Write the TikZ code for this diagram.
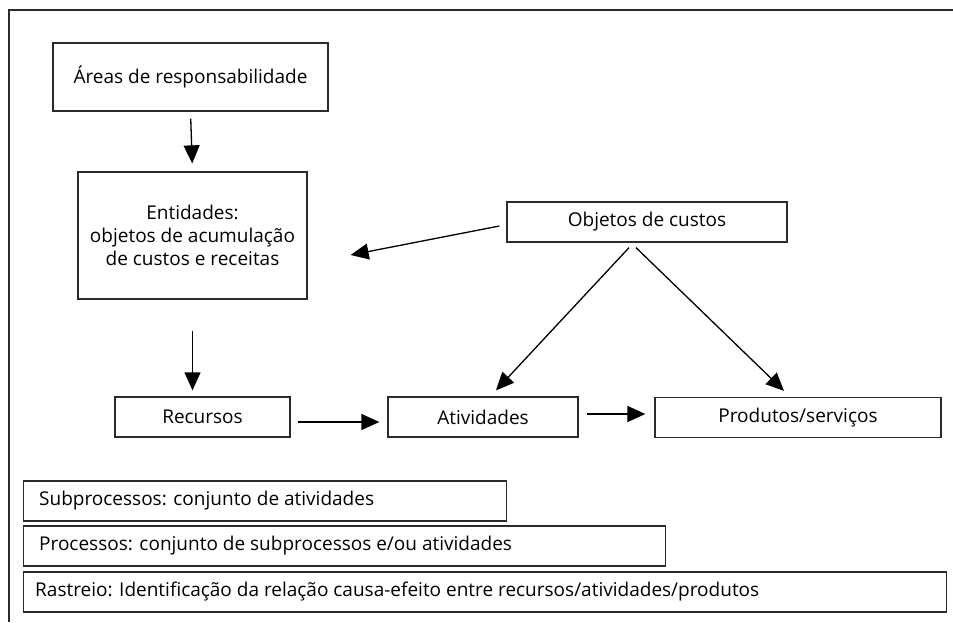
\documentclass[tikz,border=0pt]{standalone}
\usepackage{fontspec}
\setmainfont{Open Sans}
\usetikzlibrary{arrows.meta}
\definecolor{ink}{HTML}{2B2B2B}
\tikzset{
  txt/.style={font=\fontsize{19}{23}\selectfont, text=black},
  box/.style={draw=ink, line width=1.3pt, minimum height=40pt, inner sep=0pt, txt},
  arr/.style={draw=black, line width=1.3pt, -{Triangle[length=18pt,width=16pt]}},
}
\begin{document}
\begin{tikzpicture}[x=1pt,y=-1pt]
\useasboundingbox (0,0) rectangle (953,622);
\fill[white] (0,0) rectangle (953,622);
% partial outer frame
\draw[ink, line width=1.2pt] (9,622) -- (9,10) -- (953,10);

\node[box, minimum width=275pt, minimum height=68pt] (areas) at (190.5,77) {Áreas de responsabilidade};
\node[box, minimum width=229pt, minimum height=127pt, align=center] (ent) at (192.5,235.5) {Entidades:\\objetos de acumulação\\de custos e receitas};
\node[box, minimum width=280pt] (obj) at (647,222) {Objetos de custos};
\node[box, minimum width=175pt] (rec) at (202.5,417) {Recursos};
\node[box, minimum width=190pt] (ati) at (483,417) {Atividades};
\node[box, minimum width=286pt] (prod) at (798,417.5) {Produtos/serviços};

\node[box, minimum width=483pt, anchor=west] (sub) at (23,501) {};
\node[txt, anchor=west, inner sep=0pt] (subt) at (39,501) {Subprocessos: conjunto de atividades};
\node[box, minimum width=642pt, anchor=west] (proc) at (23,546) {};
\node[txt, anchor=west, inner sep=0pt] (proct) at (39,546) {Processos: conjunto de subprocessos e/ou atividades};
\node[box, minimum width=923pt, anchor=west] (ras) at (23,592) {};
\node[txt, anchor=west, inner sep=0pt] (rast) at (35,592) {Rastreio: Identificação da relação causa-efeito entre recursos/atividades/produtos};

% arrows
\draw[arr, shorten <=7pt, shorten >=8pt] (areas.south) -- (ent.north);
\draw[arr, shorten <=31pt, shorten >=6pt] (ent.south) -- (ent.south |- rec.north);
\draw[arr, shorten <=7pt, shorten >=8pt] (rec.east |- 0,422) -- (ati.west |- 0,422);
\draw[arr, shorten <=8pt, shorten >=9pt] (ati.east |- 0,414) -- (prod.west |- 0,414);

\coordinate (oe1) at ([shift={(-7,4)}]obj.west);
\coordinate (oe2) at ([shift={(43,19.5)}]ent.east);
\draw[arr] (oe1) -- (oe2);
\coordinate (oa1) at ([shift={(-18,5)}]obj.south);
\coordinate (oa2) at ([shift={(13,-6)}]ati.north);
\draw[arr] (oa1) -- (oa2);
\coordinate (op1) at ([shift={(-11,5)}]obj.south);
\coordinate (op2) at ([shift={(-14,-6)}]prod.north);
\draw[arr] (op1) -- (op2);
\end{tikzpicture}
\end{document}
